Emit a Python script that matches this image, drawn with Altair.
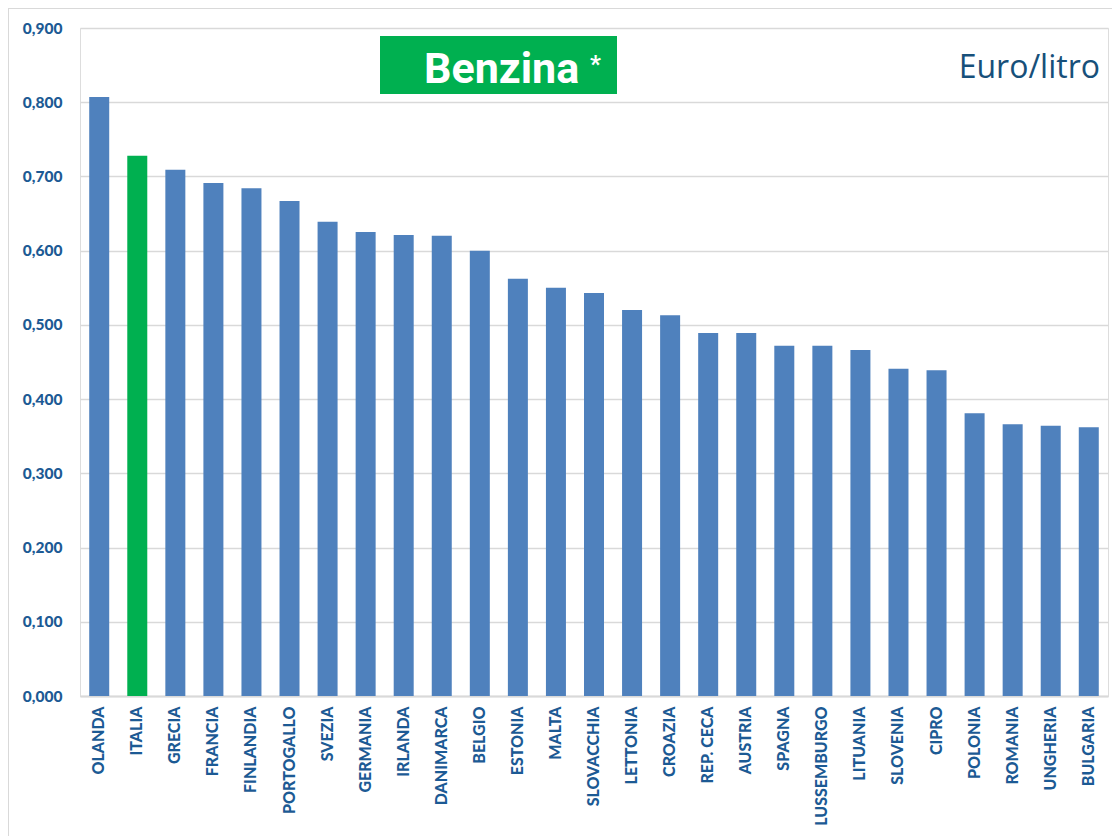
import altair as alt
import pandas as pd

countries = ["OLANDA", "ITALIA", "GRECIA", "FRANCIA", "FINLANDIA", "PORTOGALLO", "SVEZIA",
             "GERMANIA", "IRLANDA", "DANIMARCA", "BELGIO", "ESTONIA", "MALTA", "SLOVACCHIA",
             "LETTONIA", "CROAZIA", "REP. CECA", "AUSTRIA", "SPAGNA", "LUSSEMBURGO",
             "LITUANIA", "SLOVENIA", "CIPRO", "POLONIA", "ROMANIA", "UNGHERIA", "BULGARIA"]
values = [0.807, 0.728, 0.709, 0.691, 0.684, 0.667, 0.639,
          0.625, 0.621, 0.620, 0.600, 0.562, 0.550, 0.543,
          0.520, 0.513, 0.489, 0.489, 0.472, 0.472,
          0.466, 0.441, 0.439, 0.381, 0.366, 0.364, 0.362]
highlight = ["ITALIA"]
y_ticks = [0.0, 0.1, 0.2, 0.3, 0.4, 0.5, 0.6, 0.7, 0.8, 0.9]

df = pd.DataFrame({"paese": countries, "valore": values})
df["gruppo"] = ["it" if c in highlight else "altri" for c in countries]

W, H = 1028, 668
LABEL_BLUE = "#1C5A94"

bars = alt.Chart(df).mark_bar(size=20).encode(
    x=alt.X("paese:N", sort=countries, title=None,
            scale=alt.Scale(paddingInner=0.49, paddingOuter=0.25),
            axis=alt.Axis(labelAngle=270, labelAlign="right", labelBaseline="middle",
                          labelFont="Lato", labelFontWeight=900, labelFontSize=16,
                          labelColor=LABEL_BLUE, ticks=False, domain=True,
                          domainColor="#D9D9D9", domainWidth=2, labelPadding=10)),
    y=alt.Y("valore:Q", title=None,
            scale=alt.Scale(domain=[0, 0.9], nice=False),
            axis=alt.Axis(values=y_ticks, ticks=False, domain=False,
                          labelExpr="replace(format(datum.value, '.3f'), '.', ',')",
                          labelFont="Lato", labelFontWeight=900, labelFontSize=15.5,
                          labelColor=LABEL_BLUE, labelPadding=18,
                          gridColor="#D9D9D9", gridWidth=1.5)),
    color=alt.Color("gruppo:N", scale=alt.Scale(domain=["altri", "it"],
                                                range=["#4F81BD", "#00B050"]), legend=None),
)

box = alt.Chart(pd.DataFrame({"t": ["Benzina"]})).mark_rect(color="#00B050").encode(
    x=alt.value(300), x2=alt.value(537), y=alt.value(8), y2=alt.value(66))

title_txt = alt.Chart(pd.DataFrame({"t": ["Benzina"]})).mark_text(
    font="Roboto", fontWeight="bold", fontSize=43, color="white",
    align="left", baseline="alphabetic").encode(
    text="t:N", x=alt.value(344), y=alt.value(55))

star = alt.Chart(pd.DataFrame({"t": ["*"]})).mark_text(
    font="Roboto", fontWeight="bold", fontSize=24, color="white",
    align="left", baseline="alphabetic").encode(
    text="t:N", x=alt.value(510), y=alt.value(44))

unit = alt.Chart(pd.DataFrame({"t": ["Euro/litro"]})).mark_text(
    font="Open Sans", fontSize=32, color="#17507A", align="right",
    baseline="alphabetic").encode(
    text="t:N", x=alt.value(1020), y=alt.value(50))

border_l = alt.Chart(pd.DataFrame({"a": [0]})).mark_rule(color="#D9D9D9", strokeWidth=2).encode(
    x=alt.value(-72), y=alt.value(-20), y2=alt.value(830))
border_t = alt.Chart(pd.DataFrame({"a": [0]})).mark_rule(color="#D9D9D9", strokeWidth=2).encode(
    x=alt.value(-72), x2=alt.value(1040), y=alt.value(-20))

chart = alt.layer(border_l, border_t, bars, box, title_txt, star, unit).properties(
    width=W, height=H,
    autosize=alt.AutoSizeParams(type="none"),
    padding={"left": 72, "top": 20, "right": 4, "bottom": 140},
).configure_view(stroke=None).configure(background="white")

chart.save("out.html", embed_options={"renderer": "svg", "actions": False})
